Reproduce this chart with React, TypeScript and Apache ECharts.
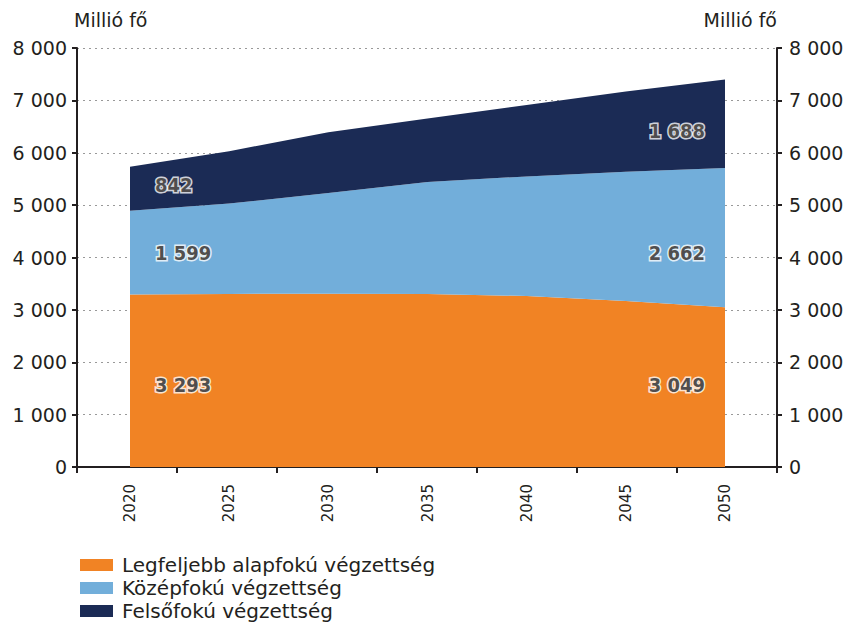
import React, { useEffect, useRef } from "react";
import * as echarts from "echarts";

const years = ["2020", "2025", "2030", "2035", "2040", "2045", "2050"];
const seriesNames = [
  "Legfeljebb alapfokú végzettség",
  "Középfokú végzettség",
  "Felsőfokú végzettség",
];
const basic = [3293, 3305, 3310, 3305, 3265, 3170, 3049];
const secondary = [1599, 1725, 1920, 2135, 2283, 2466, 2662];
const tertiary = [842, 1000, 1160, 1215, 1362, 1534, 1688];
const colors = ["#F18324", "#72AEDA", "#1B2B55"];

const fmt = (n: number) => String(n).replace(/\B(?=(\d{3})+(?!\d))/g, " ");
const FONT = "DejaVu Sans";
const LABEL_FONT = "'DejaVu Sans Condensed', 'DejaVu Sans'";
const INK = "#231f20";

export default function App() {
  const ref = useRef<HTMLDivElement>(null);
  useEffect(() => {
    if (!ref.current) return;
    const chart = echarts.init(ref.current, undefined, { renderer: "svg" });
    const all = [basic, secondary, tertiary];
    const first = 0;
    const last = years.length - 1;
    // small vertical nudges of the value labels (pixels), per end and band
    const nudgeLeft = [4, 0, -4];
    const nudgeRight = [-2, 15, 7];

    const makeLabelData = (outline: boolean) => {
      const out: any[] = [];
      [first, last].forEach((i) => {
        let base = 0;
        all.forEach((arr, k) => {
          const mid = base + arr[i] / 2;
          base += arr[i];
          const isLeft = i === first;
          out.push({
            value: [years[i], mid, arr[i]],
            label: {
              show: true,
              position: isLeft ? "right" : "left",
              distance: isLeft ? 25 : 20,
              offset: [0, isLeft ? nudgeLeft[k] : nudgeRight[k]],
              formatter: fmt(arr[i]),
              fontSize: 20,
              fontWeight: "bold",
              fontFamily: LABEL_FONT,
              color: outline ? "#ffffff" : INK,
              textBorderColor: "#ffffff",
              textBorderWidth: outline ? 3 : 0,
            },
          });
        });
      });
      return out;
    };

    const yCommon = {
      type: "value",
      min: 0,
      max: 8000,
      interval: 1000,
    };

    const labelLayer = (outline: boolean, z: number) => ({
      name: outline ? "labels-outline" : "labels",
      type: "scatter",
      xAxisIndex: 0,
      yAxisIndex: 0,
      symbolSize: 0,
      silent: true,
      z,
      data: makeLabelData(outline),
    });

    chart.setOption({
      animation: false,
      textStyle: { fontFamily: FONT },
      grid: [
        { left: 130, right: 123, top: 48, bottom: 157 },
        { left: 77, right: 71, top: 48, bottom: 157 },
      ],
      legend: seriesNames.map((n, k) => ({
        data: [n],
        orient: "vertical",
        left: 80,
        top: 555 + k * 23,
        padding: 0,
        itemWidth: 33,
        itemHeight: 12,
        icon: "rect",
        textStyle: { fontSize: 20, color: INK, fontFamily: FONT, padding: [0, 0, 0, 4] },
      })),
      xAxis: [
        {
          type: "category",
          gridIndex: 0,
          data: years,
          boundaryGap: false,
          axisLine: { show: false },
          axisTick: { show: false },
          splitLine: { show: false },
          axisLabel: {
            rotate: 90,
            margin: 17,
            fontSize: 15,
            color: INK,
            fontFamily: FONT,
          },
        },
        {
          type: "category",
          gridIndex: 1,
          data: ["", "", "", "", "", "", ""],
          boundaryGap: true,
          axisLine: { show: true, lineStyle: { color: INK, width: 2 } },
          axisTick: { show: true, length: 6, lineStyle: { color: INK, width: 2 } },
          axisLabel: { show: false },
          splitLine: { show: false },
        },
      ],
      yAxis: [
        {
          ...yCommon,
          gridIndex: 0,
          show: false,
          splitLine: { show: false },
        },
        {
          ...yCommon,
          gridIndex: 1,
          position: "left",
          name: "Millió fő",
          nameLocation: "end",
          nameGap: 19,
          nameTextStyle: { fontSize: 19, color: INK, align: "left", fontFamily: FONT, padding: [0, 0, 0, -3] },
          axisLine: { show: true, lineStyle: { color: INK, width: 2 } },
          axisTick: { show: true, length: 5, lineStyle: { color: INK, width: 2 } },
          axisLabel: { fontSize: 19, color: INK, margin: 10, formatter: (v: number) => fmt(v), fontFamily: FONT },
          splitLine: { show: true, lineStyle: { color: "#999", type: [2, 4], width: 1.2 } },
        },
        {
          ...yCommon,
          gridIndex: 1,
          position: "right",
          name: "Millió fő",
          nameLocation: "end",
          nameGap: 19,
          nameTextStyle: { fontSize: 19, color: INK, align: "right", fontFamily: FONT },
          axisLine: { show: true, lineStyle: { color: INK, width: 2 } },
          axisTick: { show: true, length: 5, lineStyle: { color: INK, width: 2 } },
          axisLabel: { fontSize: 19, color: INK, margin: 12, formatter: (v: number) => fmt(v), fontFamily: FONT },
          splitLine: { show: false },
        },
      ],
      series: [
        ...all.map((arr, k) => ({
          name: seriesNames[k],
          type: "line",
          stack: "total",
          xAxisIndex: 0,
          yAxisIndex: 0,
          showSymbol: false,
          symbol: "none",
          lineStyle: { width: 0 },
          itemStyle: { color: colors[k] },
          areaStyle: { color: colors[k], opacity: 1 },
          data: arr,
          z: 3,
        })),
        labelLayer(true, 4),
        labelLayer(false, 8),
      ],
    });
    return () => chart.dispose();
  }, []);
  return <div ref={ref} style={{ width: 848, height: 624, position: "absolute", left: 0, top: 0 }} />;
}
